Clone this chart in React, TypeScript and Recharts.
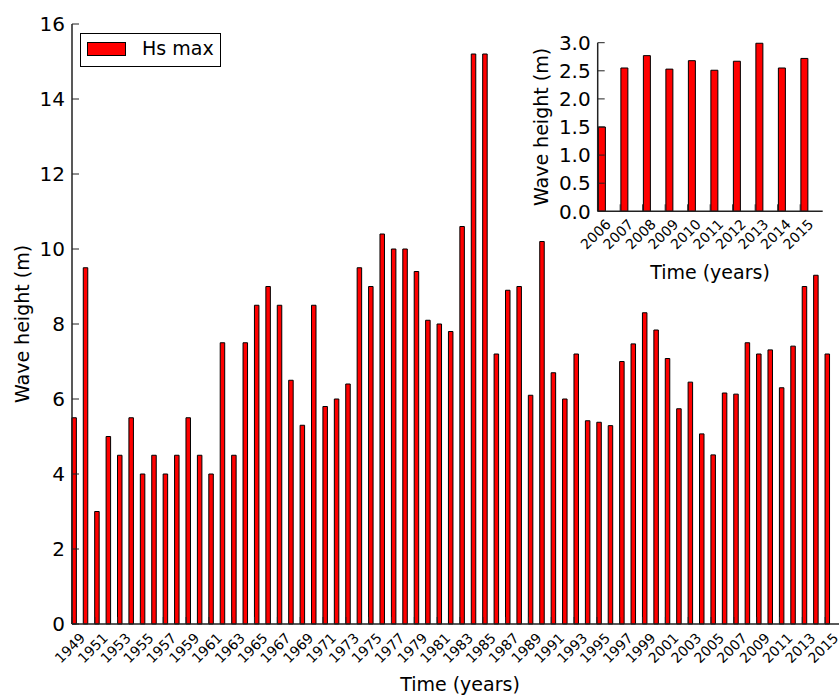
import React from "react";
import { Bar, BarChart, CartesianGrid, Legend, XAxis, YAxis } from "recharts";

const mainYears = [
  1949, 1950, 1951, 1952, 1953, 1954, 1955, 1956, 1957, 1958, 1959, 1960,
  1961, 1962, 1963, 1964, 1965, 1966, 1967, 1968, 1969, 1970, 1971, 1972,
  1973, 1974, 1975, 1976, 1977, 1978, 1979, 1980, 1981, 1982, 1983, 1984,
  1985, 1986, 1987, 1988, 1989, 1990, 1991, 1992, 1993, 1994, 1995, 1996,
  1997, 1998, 1999, 2000, 2001, 2002, 2003, 2004, 2005, 2006, 2007, 2008,
  2009, 2010, 2011, 2012, 2013, 2014, 2015,
];
const mainHs = [
  5.5, 9.5, 3.0, 5.0, 4.5, 5.5, 4.0, 4.5, 4.0, 4.5, 5.5, 4.5,
  4.0, 7.5, 4.5, 7.5, 8.5, 9.0, 8.5, 6.5, 5.3, 8.5, 5.8, 6.0,
  6.4, 9.5, 9.0, 10.4, 10.0, 10.0, 9.4, 8.1, 8.0, 7.8, 10.6, 15.2,
  15.2, 7.2, 8.9, 9.0, 6.1, 10.2, 6.7, 6.0, 7.2, 5.42, 5.38, 5.29,
  7.0, 7.47, 8.3, 7.84, 7.08, 5.74, 6.45, 5.07, 4.51, 6.16, 6.13, 7.5,
  7.2, 7.31, 6.3, 7.41, 9.0, 9.3, 7.2,
];
const mainYTicks = [0, 2, 4, 6, 8, 10, 12, 14, 16];

const insetYears = [2006, 2007, 2008, 2009, 2010, 2011, 2012, 2013, 2014, 2015];
const insetHs = [1.5, 2.55, 2.77, 2.53, 2.68, 2.51, 2.67, 2.99, 2.55, 2.72];
const insetYTicks = [0, 0.5, 1.0, 1.5, 2.0, 2.5, 3.0];

// bars sit at the left edge of each year slot (old matplotlib "edge" align)
const mainData = mainYears.map((year, i) => ({ pos: i + 0.225, year, hs: mainHs[i] }));
const insetData = insetYears.map((year, i) => ({ pos: i + 0.175, year, hs: insetHs[i] }));
const mainXTicks = mainYears.map((_, i) => i).filter((i) => i % 2 === 0);
const insetXTicks = insetYears.map((_, i) => i);

const FONT = "DejaVu Sans";
const SPINE = "#222";
const axisLine = { stroke: SPINE, strokeWidth: 1.5 };

const makeBottomTick = (labels: number[], offset: number) => (props: any) => {
  const { x, y, payload } = props;
  return (
    <g>
      <line x1={x} y1={y} x2={x} y2={y - 7} stroke={SPINE} />
      <text
        transform={`translate(${x - 2},${y + offset}) rotate(-45)`}
        textAnchor="middle"
        dy="0.35em"
        fontSize={14}
        fontFamily={FONT}
        fill="#000"
      >
        {labels[payload.value]}
      </text>
    </g>
  );
};

const TopTick = (props: any) => {
  const { x, y } = props;
  return <line x1={x} y1={y} x2={x} y2={y + 7} stroke={SPINE} />;
};

const RightTick = (props: any) => {
  const { x, y } = props;
  return <line x1={x} y1={y} x2={x - 7} y2={y} stroke={SPINE} />;
};

const makeLeftTick = (fmt: (v: number) => string) => (props: any) => {
  const { x, y, payload } = props;
  return (
    <g>
      <line x1={x} y1={y} x2={x + 7} y2={y} stroke={SPINE} />
      <text x={x - 7} y={y} dy="0.36em" textAnchor="end" fontSize={20} fontFamily={FONT} fill="#000">
        {fmt(payload.value)}
      </text>
    </g>
  );
};

const AxisTitle = ({ tx, ty, rot, text }: any) => (
  <text
    transform={`translate(${tx},${ty}) rotate(${rot})`}
    textAnchor="middle"
    fontSize={19}
    fontFamily={FONT}
    fill="#000"
  >
    {text}
  </text>
);

const LegendBox = (props: any) => {
  const item = props.payload && props.payload[0];
  return (
    <div
      style={{
        position: "relative",
        width: 139,
        height: 32,
        border: "1px solid #000",
        background: "#fff",
        fontFamily: FONT,
        fontSize: 19,
      }}
    >
      <div
        style={{
          position: "absolute",
          left: 6,
          top: 8,
          width: 37,
          height: 12,
          background: "#ff0000",
          border: "1px solid #000",
        }}
      />
      <span style={{ position: "absolute", left: 61, top: 2, lineHeight: "24px", whiteSpace: "nowrap" }}>
        {item ? item.value : ""}
      </span>
    </div>
  );
};

const App = () => {
  return (
    <div
      style={{
        position: "absolute",
        left: 0,
        top: 0,
        width: 839,
        height: 695,
        overflow: "hidden",
        background: "#fff",
      }}
    >
      <BarChart
        width={860}
        height={695}
        data={mainData}
        margin={{ top: 24, right: 12, left: 12, bottom: 11 }}
      >
        <XAxis
          dataKey="pos"
          type="number"
          domain={[0, 68]}
          ticks={mainXTicks}
          interval={0}
          height={60}
          tickSize={0}
          tickMargin={0}
          tickLine={false}
          axisLine={axisLine}
          tick={makeBottomTick(mainYears, 24)}
          label={<AxisTitle tx={460} ty={691} rot={0} text="Time (years)" />}
        />
        <XAxis
          xAxisId="top"
          orientation="top"
          type="number"
          domain={[0, 68]}
          allowDataOverflow
          ticks={mainXTicks}
          interval={0}
          height={0}
          tickSize={0}
          tickMargin={0}
          tickLine={false}
          axisLine={axisLine}
          tick={TopTick}
        />
        <YAxis
          type="number"
          domain={[0, 16]}
          ticks={mainYTicks}
          interval={0}
          width={60}
          tickSize={0}
          tickMargin={0}
          tickLine={false}
          axisLine={axisLine}
          tick={makeLeftTick((v) => String(v))}
          label={<AxisTitle tx={29} ty={324} rot={-90} text="Wave height (m)" />}
        />
        <Legend
          layout="horizontal"
          verticalAlign="middle"
          align="center"
          wrapperStyle={{ left: 80, top: 33, width: "auto", height: "auto" }}
          content={LegendBox}
        />
        <Bar
          dataKey="hs"
          name="Hs max"
          fill="#ff0000"
          stroke="#000"
          strokeWidth={1}
          barSize={4.5}
          isAnimationActive={false}
        />
      </BarChart>

      <div style={{ position: "absolute", left: 520, top: 30, width: 330, height: 270 }}>
        <BarChart
          width={330}
          height={270}
          data={insetData}
          margin={{ top: 12.7, right: 27.3, left: 7.7, bottom: 8.7 }}
        >
          <CartesianGrid fill="#fff" horizontal={false} vertical={false} />
          <XAxis
            dataKey="pos"
            type="number"
            domain={[0, 10]}
            ticks={insetXTicks}
            interval={0}
            height={80}
            tickSize={0}
            tickMargin={0}
            tickLine={false}
            axisLine={axisLine}
            tick={makeBottomTick(insetYears, 23)}
            label={<AxisTitle tx={190} ty={249} rot={0} text="Time (years)" />}
          />
          <XAxis
            xAxisId="top"
            orientation="top"
            type="number"
            domain={[0, 10]}
            allowDataOverflow
            ticks={insetXTicks.filter((i) => i > 0)}
            interval={0}
            height={0}
            tickSize={0}
            tickMargin={0}
            tickLine={false}
            axisLine={axisLine}
            tick={TopTick}
          />
          <YAxis
            type="number"
            domain={[0, 3]}
            ticks={insetYTicks}
            interval={0}
            width={70}
            tickSize={0}
            tickMargin={0}
            tickLine={false}
            axisLine={axisLine}
            tick={makeLeftTick((v) => v.toFixed(1))}
            label={<AxisTitle tx={28} ty={97} rot={-90} text="Wave height (m)" />}
          />
          <YAxis
            yAxisId="right"
            orientation="right"
            type="number"
            domain={[0, 3]}
            allowDataOverflow
            ticks={insetYTicks}
            interval={0}
            width={0}
            tickSize={0}
            tickMargin={0}
            tickLine={false}
            axisLine={axisLine}
            tick={RightTick}
          />
          <Bar
            dataKey="hs"
            fill="#ff0000"
            stroke="#000"
            strokeWidth={1}
            barSize={7}
            isAnimationActive={false}
          />
        </BarChart>
      </div>
    </div>
  );
};

export default App;
